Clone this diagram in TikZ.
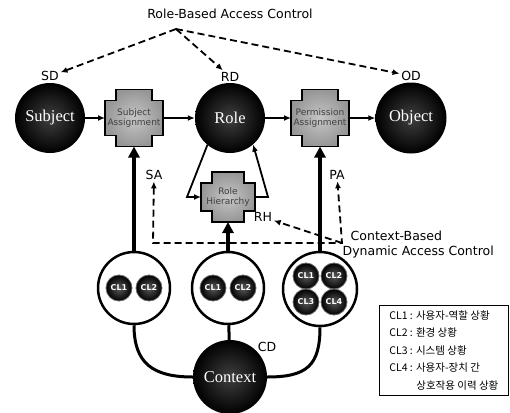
\documentclass[tikz,border=0pt]{standalone}
\usepackage{fontspec}
\setmainfont{DejaVu Sans}
\newfontfamily\serifface{Liberation Serif}
\newfontfamily\krface{Noto Sans CJK KR}
\usetikzlibrary{arrows.meta,positioning,backgrounds}

% notch of the plus-shaped assignment boxes
\newcommand{\plusnotch}{11pt}
\newcommand{\plusoutline}[1]{%
  \path[plusfill] ([xshift=\plusnotch]#1.north west) -- ([xshift=-\plusnotch]#1.north east)
    -- ([xshift=-\plusnotch,yshift=-\plusnotch]#1.north east) -- ([yshift=-\plusnotch]#1.north east)
    -- ([yshift=\plusnotch]#1.south east) -- ([xshift=-\plusnotch,yshift=\plusnotch]#1.south east)
    -- ([xshift=-\plusnotch]#1.south east) -- ([xshift=\plusnotch]#1.south west)
    -- ([xshift=\plusnotch,yshift=\plusnotch]#1.south west) -- ([yshift=\plusnotch]#1.south west)
    -- ([yshift=-\plusnotch]#1.north west) -- ([xshift=\plusnotch,yshift=-\plusnotch]#1.north west)
    -- cycle;}

\begin{document}
\begin{tikzpicture}[x=1pt,y=-1pt,>=Latex,
  bigball/.style={circle,minimum size=70pt,inner sep=0pt,shading=radial,
    inner color=black!75,outer color=black,text=white!85,
    font=\serifface\fontsize{16.5}{16}\selectfont},
  plusbox/.style={rectangle,inner sep=0pt,outer sep=0pt,minimum width=58pt,
    minimum height=57pt,align=center,text=black!75,font=\fontsize{9}{10.5}\selectfont},
  plusfill/.style={draw=black,line width=1.8pt,shading=radial,
    inner color=gray!45,outer color=gray!82},
  ring/.style={circle,draw,line width=2.5pt,fill=white,minimum size=72pt,inner sep=0pt},
  clball/.style={circle,draw=black!60,line width=0.8pt,minimum size=26pt,inner sep=0pt,
    shading=radial,inner color=black!65,outer color=black,text=white,
    font=\bfseries\fontsize{8}{9}\selectfont},
  tag/.style={inner sep=1.5pt,font=\fontsize{12.5}{15}\selectfont},
  flow/.style={->,line width=1.8pt,>={Latex[length=7pt,width=6pt]}},
  feed/.style={->,line width=4pt,>={Triangle[length=11pt,width=11pt]}},
  link/.style={line width=3pt},
  hint/.style={dashed,dash pattern=on 7pt off 4pt,line width=1.8pt,
    >={Latex[length=7pt,width=6pt]}},
  legend/.style={draw,line width=0.8pt,align=left,inner xsep=4pt,inner ysep=5pt,
    minimum width=129pt,font=\krface\fontsize{10.5}{17.5}\selectfont}]
  \useasboundingbox (0,0) rectangle (510,412);

  % role based part
  \node[tag] (rbac) at (230,14) {Role-Based Access Control};
  \coordinate (rbactop) at (176,29);

  \node[bigball] (subj) at (50,118) {Subject};
  \node[plusbox] (sa) at (134,118) {Subject\\Assignment};
  \node[bigball] (role) at (230,118) {Role};
  \node[plusbox] (pa) at (320,118) {Permission\\Assignment};
  \node[bigball,minimum size=71pt] (obj) at (411,118) {Object};
  \node[plusbox,minimum width=54pt,minimum height=50pt] (rh) at (228,197) {Role\\Hierarchy};

  \node[tag,above=0pt of subj] (sd) {SD};
  \node[tag,above=0pt of role] (rd) {RD};
  \node[tag,above=0pt of obj] (od) {OD};
  \node[tag] (salbl) at (154,175) {SA};
  \node[tag] (palbl) at (337,175) {PA};
  \node[tag] (rhlbl) at (263,217) {RH};

  \draw[flow] (subj) -- (sa);
  \draw[flow] (sa) -- (role);
  \draw[flow] (role) -- (pa);
  \draw[flow] (pa) -- (obj);
  \coordinate (rhin) at (187,197);
  \coordinate (rhout) at (268,197);
  \draw[flow] (role.230) -- (rhin) -- (rh.west);
  \draw[flow] (rh.east) -- (rhout) -- (role.311);

  \draw[hint,->] (rbactop) -- (sd);
  \draw[hint,->] (rbactop) -- (rd);
  \draw[hint,->] (rbactop) -- (od);

  % context part
  \node[ring] (c1) at (134,288) {};
  \node[ring] (c2) at (228,288) {};
  \node[ring,minimum size=74pt] (c3) at (320,289) {};
  \node[clball] (c1a) at (119,288) {CL1};
  \node[clball] (c1b) at (149,288) {CL2};
  \node[clball] (c2a) at (213,288) {CL1};
  \node[clball] (c2b) at (243,288) {CL2};
  \node[clball] (c3a) at (306,276) {CL1};
  \node[clball] (c3b) at (334,276) {CL2};
  \node[clball] (c3c) at (306,302) {CL3};
  \node[clball] (c3d) at (334,302) {CL4};
  \node[bigball,minimum size=74pt] (ctx) at (230,377) {Context};
  \node[tag] (cd) at (267,347) {CD};

  \draw[feed] (c1) -- (sa);
  \draw[feed] (c2) -- (rh);
  \draw[feed] (c3) -- (pa);
  \draw[link] (c2) -- (ctx);
  \draw[link] (c1.south) .. controls +(0,38) and +(-40,0) .. (ctx.west);
  \draw[link] (c3.south) .. controls +(0,38) and +(40,0) .. (ctx.east);

  \coordinate (cbl) at (153,243);
  \coordinate (cbr) at (342,243);
  \draw[hint,<->] (salbl) -- (cbl) -- (cbr) -- (palbl);
  \draw[hint,->] (cbr) -- (rhlbl);
  \node[tag,anchor=west,align=left] (cbtxt) at (341,245)
    {\hspace*{8pt}Context-Based\\Dynamic Access Control};

  \node[legend,anchor=north west] (key) at (379,305)
    {CL1 : 사용자-역할 상황\\CL2 : 환경 상황\\CL3 : 시스템 상황\\CL4 : 사용자-장치 간\\
     \hspace*{27pt}상호작용 이력 상황};

  \begin{scope}[on background layer]
    \plusoutline{sa}
    \plusoutline{pa}
    \plusoutline{rh}
  \end{scope}
\end{tikzpicture}
\end{document}
